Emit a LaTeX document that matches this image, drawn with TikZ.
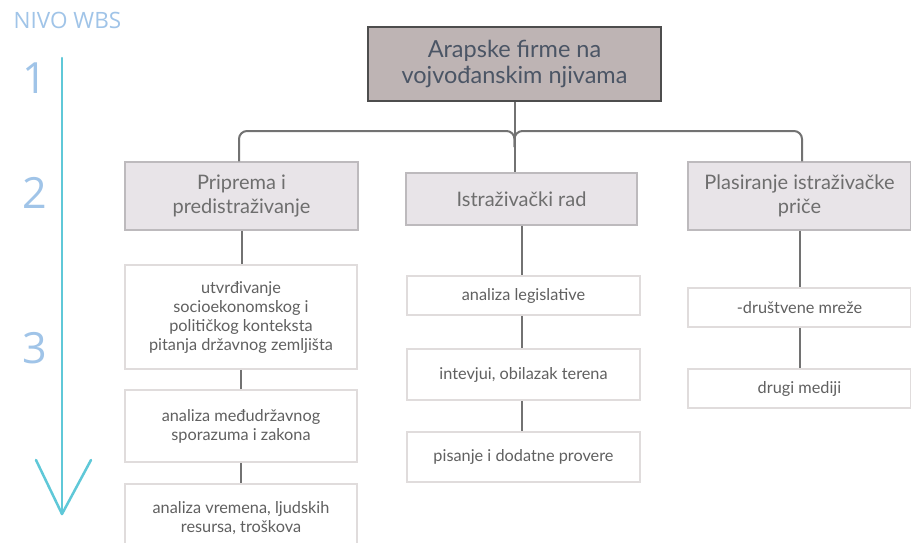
\documentclass[tikz,border=0pt]{standalone}
\usepackage{fontspec}
\setmainfont{Lato}
\newfontfamily\opensans{Open Sans}
\definecolor{rootfill}{HTML}{BEB4B4}
\definecolor{rootdraw}{HTML}{4D4D4D}
\definecolor{roottext}{HTML}{4B5565}
\definecolor{midfill}{HTML}{E8E4E8}
\definecolor{middraw}{HTML}{BDBABD}
\definecolor{midtext}{HTML}{6E6E6E}
\definecolor{leafdraw}{HTML}{E0DCDC}
\definecolor{leaftext}{HTML}{606060}
\definecolor{conn}{HTML}{727272}
\definecolor{lvl}{HTML}{A0C4E8}
\definecolor{arrowc}{HTML}{5FC8D8}
\tikzset{
  rootbox/.style={draw=rootdraw, line width=2pt, fill=rootfill, text=roottext,
    minimum width=293pt, minimum height=74pt, align=center, inner sep=0pt,
    font=\fontsize{23.5}{26}\selectfont},
  midbox/.style={draw=middraw, line width=1.5pt, fill=midfill, text=midtext,
    minimum height=68pt, align=center, inner sep=0pt,
    font=\fontsize{20}{24}\selectfont},
  leafbox/.style={draw=leafdraw, line width=1.5pt, fill=white, text=leaftext,
    align=center, inner sep=0pt, font=\fontsize{16.3}{19}\selectfont},
  link/.style={draw=conn, line width=2pt},
  lvltext/.style={text=lvl, inner sep=0pt},
}
\begin{document}
\begin{tikzpicture}[x=1pt,y=-1pt]
\clip (0,0) rectangle (911,542);
\fill[white] (0,0) rectangle (911,542);

% level labels and arrow
\node[lvltext, font=\opensans\fontsize{22.5}{24}\selectfont] (nivo) at (67.5,20) {NIVO WBS};
\node[lvltext, font=\opensans\fontsize{43}{46}\selectfont] (n1) at (35,78) {1};
\node[lvltext, font=\opensans\fontsize{43}{46}\selectfont] (n2) at (35,193) {2};
\node[lvltext, font=\opensans\fontsize{43}{46}\selectfont] (n3) at (35,348) {3};
\coordinate (atop) at (62,58);
\coordinate (atip) at (62,514);
\coordinate (al) at (36,460);
\coordinate (ar) at (91,460);
\draw[arrowc, line width=2.5pt, line cap=round, line join=round] (atop) -- (atip);
\draw[arrowc, line width=2.5pt, line cap=round, line join=round] (al) -- (atip) -- (ar);

% root
\node[rootbox] (root) at (514.5,64) {Arapske firme na\\vojvođanskim njivama};

% level 2
\node[midbox, minimum width=233pt] (pa) at (241.5,196) {Priprema i\\predistraživanje};
\node[midbox, minimum width=231pt, minimum height=52pt] (pb) at (521.5,199) {Istraživački rad};
\node[midbox, minimum width=223pt] (pc) at (799.5,196) {Plasiranje istraživačke\\priče};

% level 3 left
\node[leafbox, minimum width=232pt, minimum height=104pt] (a1) at (241,317)
  {utvrđivanje\\socioekonomskog i\\političkog konteksta\\pitanja državnog zemljišta};
\node[leafbox, minimum width=232pt, minimum height=72pt] (a2) at (241,426)
  {analiza međudržavnog\\sporazuma i zakona};
\node[leafbox, minimum width=232pt, minimum height=68pt] (a3) at (241,518)
  {analiza vremena, ljudskih\\resursa, troškova};

% level 3 middle
\node[leafbox, minimum width=233pt, minimum height=39pt] (b1) at (523.5,295.5) {analiza legislative};
\node[leafbox, minimum width=233pt, minimum height=51pt] (b2) at (523.5,374.5) {intevjui, obilazak terena};
\node[leafbox, minimum width=233pt, minimum height=50pt] (b3) at (523.5,457) {pisanje i dodatne provere};

% level 3 right
\node[leafbox, minimum width=223pt, minimum height=39pt] (c1) at (799.5,307.5) {-društvene mreže};
\node[leafbox, minimum width=223pt, minimum height=39pt] (c2) at (799.5,388.5) {drugi mediji};

% connectors root -> level 2
\coordinate (hy) at (0,131);
\coordinate (bl) at (239,0);
\coordinate (br) at (802,0);
\draw[link] (root.south) -- (root.south |- pb.north);
\draw[link, rounded corners=8pt] (bl |- pa.north) -- (bl |- hy) -- (root.south |- hy) -- ([yshift=-16pt]root.south |- hy);
\draw[link, rounded corners=8pt] (br |- pc.north) -- (br |- hy) -- (root.south |- hy) -- ([yshift=-16pt]root.south |- hy);

% connectors level 2 -> level 3
\draw[link] (pa.south) -- (pa.south |- a1.north);
\draw[link] (a1.south) -- (a1.south |- a2.north);
\draw[link] (a2.south) -- (a2.south |- a3.north);
\draw[link] (pb.south) -- (pb.south |- b1.north);
\draw[link] (b1.south -| pb.south) -- (pb.south |- b2.north);
\draw[link] (b2.south -| pb.south) -- (pb.south |- b3.north);
\draw[link] (pc.south) -- (pc.south |- c1.north);
\draw[link] (c1.south) -- (c1.south |- c2.north);
\end{tikzpicture}
\end{document}
